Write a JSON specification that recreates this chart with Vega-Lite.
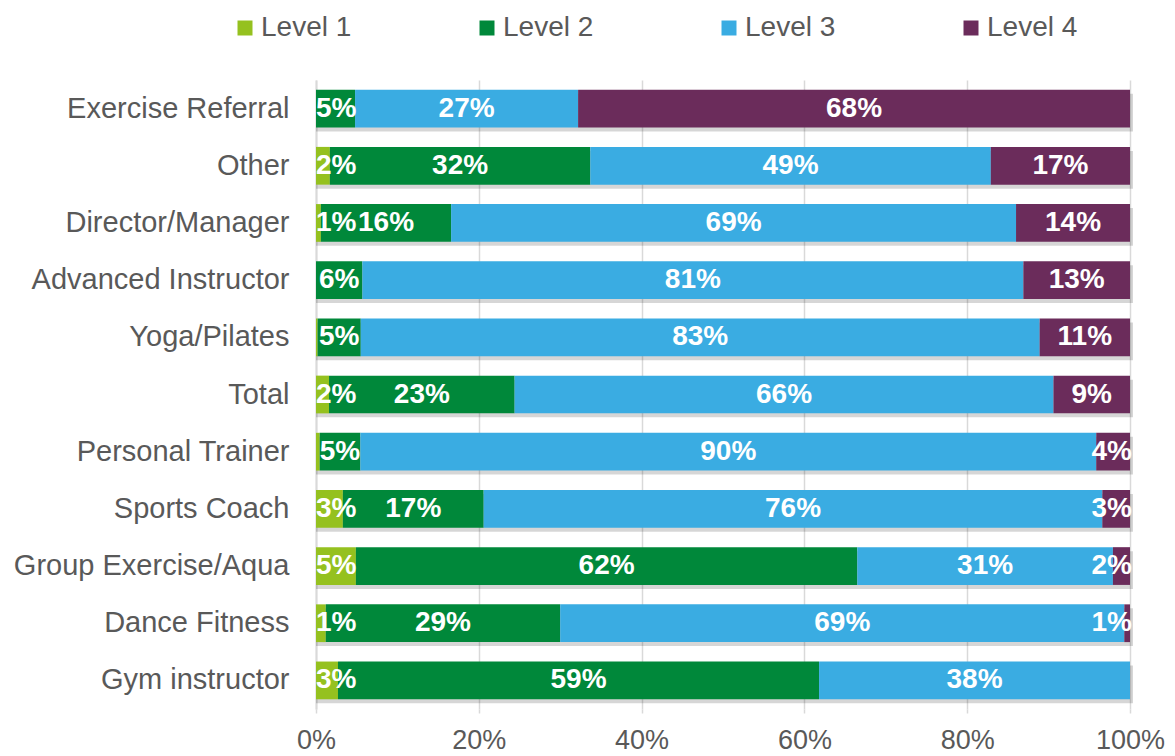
{
  "$schema": "https://vega.github.io/schema/vega-lite/v6.json",
  "width": 814,
  "height": 629,
  "autosize": {"type": "none"},
  "padding": {"left": 316, "top": 80, "right": 45, "bottom": 47},
  "background": "white",
  "config": {
    "view": {"stroke": null},
    "font": "Liberation Sans",
    "axisX": {
      "title": null,
      "format": ".0%",
      "grid": true,
      "gridColor": "#d9d9d9",
      "gridWidth": 1.5,
      "domain": false,
      "ticks": true,
      "tickSize": 4,
      "tickColor": "#d9d9d9",
      "tickWidth": 1.5,
      "labelFontSize": 27,
      "labelColor": "#595959",
      "labelPadding": 14,
      "labelFlush": false
    }
  },
  "data": {
    "values": [
      {"category": "Exercise Referral", "level": "Level 1", "value": 0},
      {"category": "Exercise Referral", "level": "Level 2", "value": 0.048},
      {"category": "Exercise Referral", "level": "Level 3", "value": 0.274},
      {"category": "Exercise Referral", "level": "Level 4", "value": 0.678},
      {"category": "Other", "level": "Level 1", "value": 0.017},
      {"category": "Other", "level": "Level 2", "value": 0.32},
      {"category": "Other", "level": "Level 3", "value": 0.492},
      {"category": "Other", "level": "Level 4", "value": 0.171},
      {"category": "Director/Manager", "level": "Level 1", "value": 0.006},
      {"category": "Director/Manager", "level": "Level 2", "value": 0.16},
      {"category": "Director/Manager", "level": "Level 3", "value": 0.694},
      {"category": "Director/Manager", "level": "Level 4", "value": 0.14},
      {"category": "Advanced Instructor", "level": "Level 1", "value": 0},
      {"category": "Advanced Instructor", "level": "Level 2", "value": 0.057},
      {"category": "Advanced Instructor", "level": "Level 3", "value": 0.812},
      {"category": "Advanced Instructor", "level": "Level 4", "value": 0.131},
      {"category": "Yoga/Pilates", "level": "Level 1", "value": 0.002},
      {"category": "Yoga/Pilates", "level": "Level 2", "value": 0.053},
      {"category": "Yoga/Pilates", "level": "Level 3", "value": 0.834},
      {"category": "Yoga/Pilates", "level": "Level 4", "value": 0.111},
      {"category": "Total", "level": "Level 1", "value": 0.016},
      {"category": "Total", "level": "Level 2", "value": 0.228},
      {"category": "Total", "level": "Level 3", "value": 0.662},
      {"category": "Total", "level": "Level 4", "value": 0.094},
      {"category": "Personal Trainer", "level": "Level 1", "value": 0.0045},
      {"category": "Personal Trainer", "level": "Level 2", "value": 0.05},
      {"category": "Personal Trainer", "level": "Level 3", "value": 0.904},
      {"category": "Personal Trainer", "level": "Level 4", "value": 0.0415},
      {"category": "Sports Coach", "level": "Level 1", "value": 0.033},
      {"category": "Sports Coach", "level": "Level 2", "value": 0.173},
      {"category": "Sports Coach", "level": "Level 3", "value": 0.76},
      {"category": "Sports Coach", "level": "Level 4", "value": 0.034},
      {"category": "Group Exercise/Aqua", "level": "Level 1", "value": 0.049},
      {"category": "Group Exercise/Aqua", "level": "Level 2", "value": 0.616},
      {"category": "Group Exercise/Aqua", "level": "Level 3", "value": 0.314},
      {"category": "Group Exercise/Aqua", "level": "Level 4", "value": 0.021},
      {"category": "Dance Fitness", "level": "Level 1", "value": 0.012},
      {"category": "Dance Fitness", "level": "Level 2", "value": 0.288},
      {"category": "Dance Fitness", "level": "Level 3", "value": 0.693},
      {"category": "Dance Fitness", "level": "Level 4", "value": 0.007},
      {"category": "Gym instructor", "level": "Level 1", "value": 0.027},
      {"category": "Gym instructor", "level": "Level 2", "value": 0.591},
      {"category": "Gym instructor", "level": "Level 3", "value": 0.382},
      {"category": "Gym instructor", "level": "Level 4", "value": 0}
    ]
  },
  "encoding": {
    "y": {
      "field": "category",
      "type": "nominal",
      "sort": ["Exercise Referral", "Other", "Director/Manager", "Advanced Instructor", "Yoga/Pilates", "Total", "Personal Trainer", "Sports Coach", "Group Exercise/Aqua", "Dance Fitness", "Gym instructor"],
      "scale": {"paddingInner": 0.34, "paddingOuter": 0.17},
      "axis": {
        "title": null,
        "labelFontSize": 29,
        "labelColor": "#595959",
        "labelPadding": 27,
        "labelLimit": 400,
        "ticks": false,
        "domain": true,
        "domainColor": "#d9d9d9",
        "domainWidth": 2,
        "grid": false
      }
    }
  },
  "layer": [
    {
      "mark": {"type": "bar", "color": "#000000", "opacity": 0.16, "xOffset": 3, "yOffset": 4},
      "encoding": {
        "x": {"aggregate": "sum", "field": "value", "type": "quantitative", "scale": {"domain": [0, 1]}, "title": null, "axis": {"values": [0, 0.2, 0.4, 0.6, 0.8, 1]}}
      }
    },
    {
      "mark": {"type": "bar"},
      "encoding": {
        "x": {
          "field": "value",
          "type": "quantitative",
          "stack": "zero",
          "scale": {"domain": [0, 1]},
          "title": null,
          "axis": {"values": [0, 0.2, 0.4, 0.6, 0.8, 1]}
        },
        "color": {
          "field": "level",
          "type": "nominal",
          "scale": {"domain": ["Level 1", "Level 2", "Level 3", "Level 4"], "range": ["#95C11F", "#00883A", "#3AACE2", "#6B2C5B"]},
          "legend": {
            "title": null,
            "orient": "none",
            "legendX": -85,
            "legendY": -66,
            "direction": "horizontal",
            "symbolType": "square",
            "symbolSize": 225,
            "symbolStrokeWidth": 0,
            "symbolOpacity": 1,
            "labelFontSize": 28,
            "labelColor": "#595959",
            "labelOffset": 2,
            "columnPadding": 121
          }
        },
        "order": {"field": "level", "sort": "ascending"}
      }
    },
    {
      "transform": [
        {"stack": "value", "groupby": ["category"], "sort": [{"field": "level", "order": "ascending"}], "as": ["x0", "x1"]},
        {"filter": "datum.value >= 0.005"},
        {"calculate": "min(max((datum.x0 + datum.x1) / 2, 0.0249), 0.9776)", "as": "mid"}
      ],
      "mark": {"type": "text", "color": "white", "fontWeight": "bold", "fontSize": 28, "align": "center", "baseline": "middle"},
      "encoding": {
        "x": {"field": "mid", "type": "quantitative", "scale": {"domain": [0, 1]}, "title": null, "axis": {"values": [0, 0.2, 0.4, 0.6, 0.8, 1]}},
        "text": {"field": "value", "type": "quantitative", "format": ".0%"}
      }
    }
  ]
}
